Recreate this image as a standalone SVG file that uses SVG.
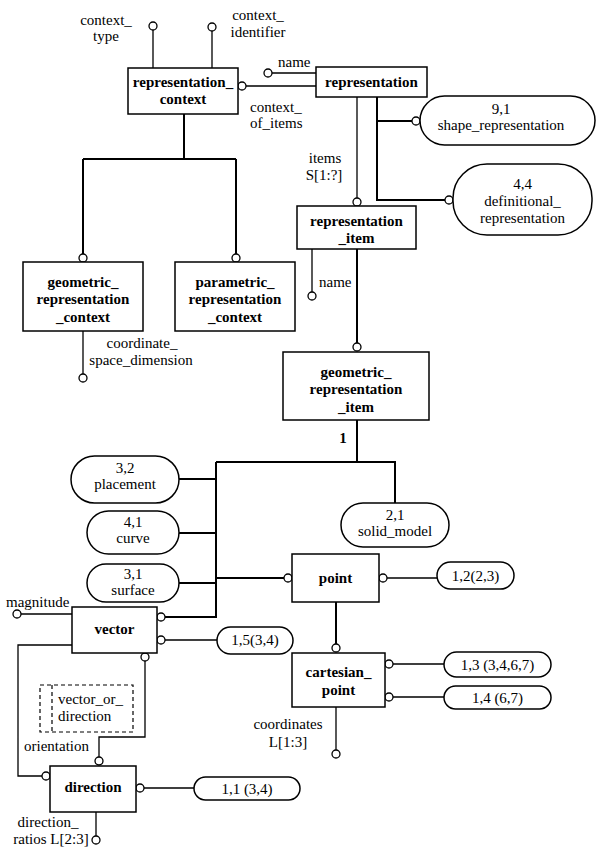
<svg xmlns="http://www.w3.org/2000/svg" width="605" height="855" viewBox="0 0 605 855">
<style>
text{font-family:"Liberation Serif","Times New Roman",serif;font-size:15px;fill:#000}
.b{font-weight:bold}
.m{text-anchor:middle}
.box{fill:#fff;stroke:#000;stroke-width:1.5}
.dash{fill:none;stroke:#000;stroke-width:1.2;stroke-dasharray:4,3}
.thin{fill:none;stroke:#000;stroke-width:1.3}
.thick{fill:none;stroke:#000;stroke-width:2}
.c{fill:#fff;stroke:#000;stroke-width:1.3}
</style>
<rect width="605" height="855" fill="#fff"/>
<g id="connectors">
<path class="thin" d="M153,68V30M212,68V31M272,73H316M246,86H316"/>
<path class="thick" d="M184,114V159M83,159H236M83,159V254M236,159V254"/>
<path class="thin" d="M83,331V374"/>
<path class="thin" d="M357,97V198"/>
<path class="thick" d="M377,97V200H445M377,121H412"/>
<path class="thin" d="M312,249V292"/>
<path class="thick" d="M357,249V343"/>
<path class="thick" d="M357,420V462M216,462H395V503M216,462V617H165M179,479H216M179,533H216M179,583H216M216,578H284"/>
<path class="thin" d="M387,578H437"/>
<path class="thick" d="M336,602V644"/>
<path class="thin" d="M393,664H444M393,697H444M336,707V750"/>
<path class="thin" d="M21,614H72M165,640H217"/>
<path class="thin" d="M145,661V737H99V757M72,645H18V776H42"/>
<path class="thin" d="M144,788H194M96,812V836"/>
<circle class="c" cx="153" cy="26" r="4"/>
<circle class="c" cx="212" cy="27" r="4"/>
<circle class="c" cx="268" cy="73" r="4"/>
<circle class="c" cx="242" cy="86" r="4"/>
<circle class="c" cx="83" cy="258" r="4"/>
<circle class="c" cx="236" cy="258" r="4"/>
<circle class="c" cx="83" cy="378" r="4"/>
<circle class="c" cx="357" cy="202" r="4"/>
<circle class="c" cx="416" cy="121" r="4"/>
<circle class="c" cx="449" cy="200" r="4"/>
<circle class="c" cx="312" cy="296" r="4"/>
<circle class="c" cx="357" cy="347" r="4"/>
<circle class="c" cx="161" cy="617" r="4"/>
<circle class="c" cx="288" cy="578" r="4"/>
<circle class="c" cx="383" cy="578" r="4"/>
<circle class="c" cx="336" cy="648" r="4"/>
<circle class="c" cx="389" cy="664" r="4"/>
<circle class="c" cx="389" cy="697" r="4"/>
<circle class="c" cx="336" cy="754" r="4"/>
<circle class="c" cx="17" cy="614" r="4"/>
<circle class="c" cx="161" cy="640" r="4"/>
<circle class="c" cx="145" cy="657" r="4"/>
<circle class="c" cx="99" cy="761" r="4"/>
<circle class="c" cx="46" cy="776" r="4"/>
<circle class="c" cx="140" cy="788" r="4"/>
<circle class="c" cx="96" cy="840" r="4"/>
<text class="m" x="106" y="25">context_</text>
<text class="m" x="106" y="41">type</text>
<text class="m" x="258" y="20">context_</text>
<text class="m" x="258" y="37">identifier</text>
<text x="278" y="67">name</text>
<text x="250" y="112">context_</text>
<text x="250" y="128">of_items</text>
<text class="m" x="325" y="163">items</text>
<text class="m" x="324" y="180">S[1:?]</text>
<text x="319" y="287">name</text>
<text class="m" x="142" y="348">coordinate_</text>
<text class="m" x="141" y="365">space_dimension</text>
<text class="m b" x="343" y="443">1</text>
<text x="6" y="607">magnitude</text>
<text x="24" y="751">orientation</text>
<text class="m" x="288" y="729">coordinates</text>
<text class="m" x="288" y="747">L[1:3]</text>
<text class="m" x="48" y="827">direction_</text>
<text class="m" x="51" y="844">ratios L[2:3]</text>
</g>
<g id="representation_context">
<rect class="box" x="128" y="68" width="110" height="46"/>
<text class="m b" x="183" y="87">representation_</text>
<text class="m b" x="183" y="104">context</text>
</g>
<g id="representation">
<rect class="box" x="316" y="67" width="111" height="30"/>
<text class="m b" x="371.5" y="87">representation</text>
</g>
<g id="shape_representation">
<rect class="box" x="420" y="96" width="175" height="49" rx="24.5"/>
<text class="m" x="501" y="114">9,1</text>
<text class="m" x="501" y="130">shape_representation</text>
</g>
<g id="definitional_representation">
<rect class="box" x="453" y="164" width="139" height="71" rx="34"/>
<text class="m" x="522.5" y="189">4,4</text>
<text class="m" x="522.5" y="206">definitional_</text>
<text class="m" x="522.5" y="223">representation</text>
</g>
<g id="geometric_representation_context">
<rect class="box" x="23" y="262" width="120" height="69"/>
<text class="m b" x="83" y="287">geometric_</text>
<text class="m b" x="83" y="304">representation</text>
<text class="m b" x="83" y="322">_context</text>
</g>
<g id="parametric_representation_context">
<rect class="box" x="175" y="262" width="120" height="69"/>
<text class="m b" x="235" y="287">parametric_</text>
<text class="m b" x="235" y="304">representation</text>
<text class="m b" x="235" y="322">_context</text>
</g>
<g id="representation_item">
<rect class="box" x="297" y="206" width="119" height="43"/>
<text class="m b" x="356.5" y="226">representation</text>
<text class="m b" x="356.5" y="243">_item</text>
</g>
<g id="geometric_representation_item">
<rect class="box" x="283" y="352" width="146" height="68"/>
<text class="m b" x="356" y="377">geometric_</text>
<text class="m b" x="356" y="394">representation</text>
<text class="m b" x="356" y="412">_item</text>
</g>
<g id="placement">
<rect class="box" x="71" y="456" width="108" height="47" rx="23.5"/>
<text class="m" x="125" y="473">3,2</text>
<text class="m" x="125" y="489">placement</text>
</g>
<g id="curve">
<rect class="box" x="87" y="511" width="92" height="43" rx="21.5"/>
<text class="m" x="133" y="527">4,1</text>
<text class="m" x="133" y="543">curve</text>
</g>
<g id="surface">
<rect class="box" x="87" y="564" width="92" height="38" rx="19"/>
<text class="m" x="133" y="579">3,1</text>
<text class="m" x="133" y="595">surface</text>
</g>
<g id="solid_model">
<rect class="box" x="341" y="503" width="108" height="44" rx="22"/>
<text class="m" x="395" y="520">2,1</text>
<text class="m" x="395" y="536">solid_model</text>
</g>
<g id="point">
<rect class="box" x="292" y="554" width="87" height="48"/>
<text class="m b" x="335.5" y="583">point</text>
</g>
<g id="point_ref">
<rect class="box" x="437" y="562" width="77" height="27" rx="13.5"/>
<text class="m" x="475.5" y="581">1,2(2,3)</text>
</g>
<g id="cartesian_point">
<rect class="box" x="292" y="653" width="93" height="54"/>
<text class="m b" x="338.5" y="677">cartesian_</text>
<text class="m b" x="338.5" y="695">point</text>
</g>
<g id="cartesian_ref1">
<rect class="box" x="444" y="652" width="107" height="25" rx="12.5"/>
<text class="m" x="497.5" y="670">1,3 (3,4,6,7)</text>
</g>
<g id="cartesian_ref2">
<rect class="box" x="444" y="686" width="107" height="23" rx="11.5"/>
<text class="m" x="497.5" y="703">1,4 (6,7)</text>
</g>
<g id="vector">
<rect class="box" x="72" y="607" width="85" height="46"/>
<text class="m b" x="114.5" y="634">vector</text>
</g>
<g id="vector_ref">
<rect class="box" x="217" y="627" width="76" height="27" rx="13.5"/>
<text class="m" x="255" y="645">1,5(3,4)</text>
</g>
<g id="vector_or_direction">
<rect class="dash" x="40" y="685" width="93" height="47"/>
<line class="dash" x1="52" y1="685" x2="52" y2="732"/>
<text x="58" y="704">vector_or_</text>
<text x="58" y="721">direction</text>
</g>
<g id="direction">
<rect class="box" x="50" y="766" width="86" height="46"/>
<text class="m b" x="93" y="792">direction</text>
</g>
<g id="direction_ref">
<rect class="box" x="194" y="777" width="106" height="23" rx="11.5"/>
<text class="m" x="247" y="794">1,1 (3,4)</text>
</g>
</svg>
